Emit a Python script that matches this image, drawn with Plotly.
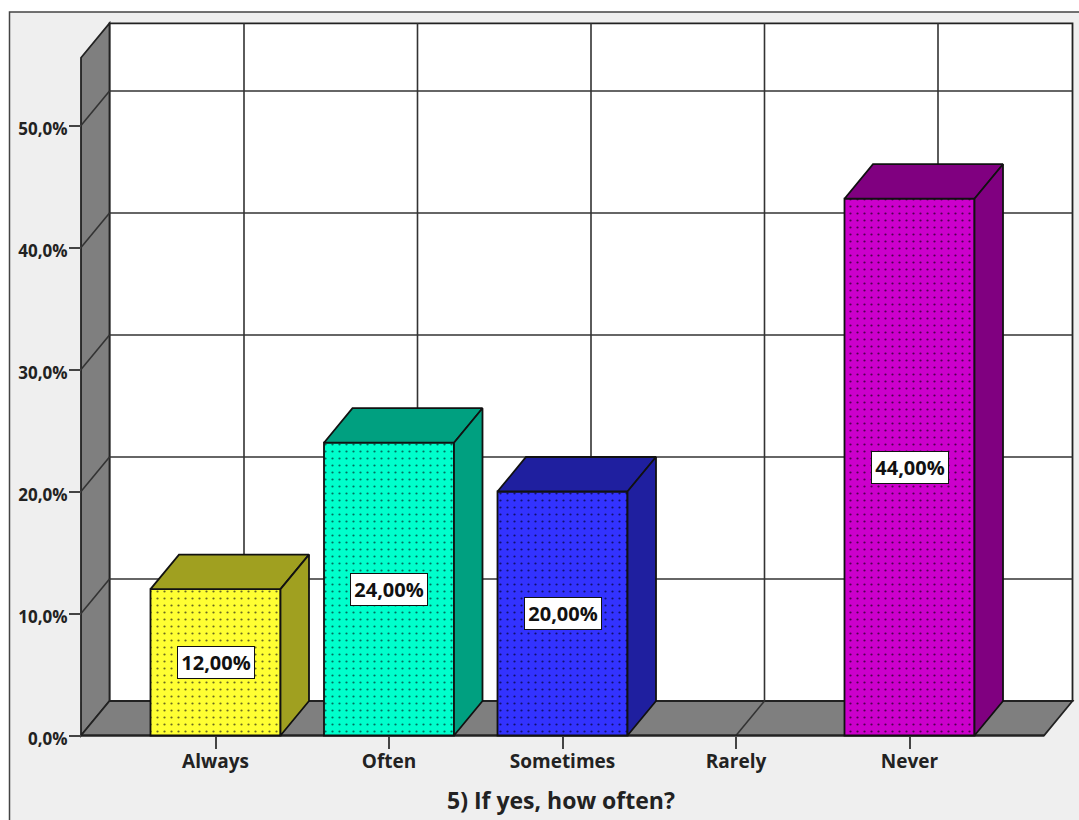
import plotly.graph_objects as go

# Survey responses, percent of respondents
categories = ["Always", "Often", "Sometimes", "Rarely", "Never"]
percentages = [12, 24, 20, 0, 44]
percent_ticks = [0, 10, 20, 30, 40, 50]
percent_tick_labels = ["0,0%", "10,0%", "20,0%", "30,0%", "40,0%", "50,0%"]
axis_title = "5) If yes, how often?"

front_colors = ["#ffff33", "#00ffcc", "#3333ff", "#cc00cc", "#cc00cc"]
shade_colors = ["#a0a020", "#00a080", "#1f1f9f", "#800080", "#800080"]
dot_colors = ["#6a6a20", "#007060", "#101070", "#500050", "#500050"]

WIDTH, HEIGHT = 1079, 820
PX_PER_CAT = 173.5
PX_PER_PCT = 12.2
CAT0_PX = 215.5
ZERO_PX = 735.5

# Oblique projection offset of the chart's depth, in data units
DX = 28.5 / PX_PER_CAT
DY = 34.5 / PX_PER_PCT
BAR_W = 130.0 / PX_PER_CAT

X_RANGE = [-CAT0_PX / PX_PER_CAT, (WIDTH - CAT0_PX) / PX_PER_CAT]
Y_RANGE = [-(HEIGHT - ZERO_PX) / PX_PER_PCT, ZERO_PX / PX_PER_PCT]

FLOOR_L = (81.0 - CAT0_PX) / PX_PER_CAT
FLOOR_R = (1044.0 - CAT0_PX) / PX_PER_CAT
WALL_TOP = 55.55

LINE = "#222222"
WALL_GREY = "#7f7f7f"
PANEL = "#efefef"
FONT = "Open Sans"


def polygon(xs, ys, fill, width=1.8):
    path = "M " + " L ".join(f"{x},{y}" for x, y in zip(xs, ys)) + " Z"
    return dict(type="path", path=path, xref="x", yref="y", layer="below",
                fillcolor=fill, line=dict(color=LINE, width=width))


def segment(x0, y0, x1, y1, width=1.6, color="#333333"):
    return dict(type="line", x0=x0, y0=y0, x1=x1, y1=y1, xref="x", yref="y",
                layer="below", line=dict(color=color, width=width))


shapes = [
    # chart panel
    dict(type="rect", xref="paper", yref="paper", layer="below",
         x0=9.5 / WIDTH, x1=1.01, y0=-0.01, y1=1 - 12 / HEIGHT,
         fillcolor=PANEL, line=dict(color="#444444", width=1.5)),
    # back wall
    polygon([FLOOR_L + DX, FLOOR_R + DX, FLOOR_R + DX, FLOOR_L + DX],
            [DY, DY, WALL_TOP + DY, WALL_TOP + DY], "#ffffff"),
    # left wall
    polygon([FLOOR_L, FLOOR_L + DX, FLOOR_L + DX, FLOOR_L],
            [0, DY, WALL_TOP + DY, WALL_TOP], WALL_GREY),
    # floor
    polygon([FLOOR_L, FLOOR_L + DX, FLOOR_R + DX, FLOOR_R],
            [0, DY, DY, 0], WALL_GREY),
]

# Horizontal grid on the back wall, continuing down the left wall
for t in percent_ticks[1:]:
    shapes.append(segment(FLOOR_L + DX, t + DY, FLOOR_R + DX, t + DY))
    shapes.append(segment(FLOOR_L, t, FLOOR_L + DX, t + DY))

# Vertical grid on the back wall, continuing across the floor
for i in range(len(categories)):
    shapes.append(segment(i + DX, DY, i + DX, WALL_TOP + DY))
    shapes.append(segment(i, 0, i + DX, DY))

# Floor's front edge
shapes.append(segment(FLOOR_L, 0, FLOOR_R, 0, width=2.2, color="#222222"))

drawn = [i for i, v in enumerate(percentages) if v > 0]

fig = go.Figure()

# Front faces of the columns
for i in drawn:
    fig.add_trace(go.Bar(
        x=[i],
        y=[percentages[i]],
        width=BAR_W,
        marker=dict(
            color=front_colors[i],
            line=dict(color="#111111", width=1.8),
            pattern=dict(shape=".", size=7, solidity=0.08,
                         fgcolor=dot_colors[i], bgcolor=front_colors[i], fgopacity=1),
        ),
        hoverinfo="skip",
    ))

# Top and side faces of the columns
for i in drawn:
    v = percentages[i]
    left, right = i - BAR_W / 2, i + BAR_W / 2
    fig.add_trace(go.Scatter(
        x=[left, left + DX, right + DX, right, left],
        y=[v, v + DY, v + DY, v, v],
        mode="lines", fill="toself", fillcolor=shade_colors[i],
        line=dict(color="#111111", width=1.8), hoverinfo="skip",
    ))
    fig.add_trace(go.Scatter(
        x=[right, right + DX, right + DX, right, right],
        y=[0, DY, v + DY, v, 0],
        mode="lines", fill="toself", fillcolor=shade_colors[i],
        line=dict(color="#111111", width=1.8), hoverinfo="skip",
    ))

annotations = [
    dict(x=i, y=percentages[i] / 2, xref="x", yref="y", showarrow=False,
         text=f"{percentages[i]:.2f}%".replace(".", ","),
         font=dict(family=FONT, size=20, color="#111111", weight=700),
         bgcolor="#ffffff", bordercolor="#111111", borderwidth=1,
         width=74, height=29)
    for i in drawn
]
annotations.append(dict(
    x=1.99, y=-64.5 / PX_PER_PCT, xref="x", yref="y", showarrow=False,
    text=axis_title,
    font=dict(family=FONT, size=23, color="#222222", weight=700),
))

fig.update_layout(
    width=WIDTH, height=HEIGHT,
    margin=dict(l=0, r=0, t=0, b=0),
    paper_bgcolor="#ffffff", plot_bgcolor="rgba(0,0,0,0)",
    showlegend=False,
    barmode="overlay",
    shapes=shapes,
    annotations=annotations,
    xaxis=dict(
        range=X_RANGE, domain=[0, 1], anchor="free",
        position=(HEIGHT - ZERO_PX) / HEIGHT,
        tickmode="array", tickvals=list(range(len(categories))), ticktext=categories,
        ticks="outside", ticklen=12, tickwidth=1.5, tickcolor="#444444",
        ticklabelstandoff=-3,
        tickfont=dict(family=FONT, size=19, color="#222222", weight=700),
        showgrid=False, zeroline=False, showline=False, fixedrange=True,
    ),
    yaxis=dict(
        range=Y_RANGE, domain=[0, 1], anchor="free",
        position=81.0 / WIDTH,
        tickmode="array", tickvals=percent_ticks, ticktext=percent_tick_labels,
        ticks="outside", ticklen=12, tickwidth=1.5, tickcolor="#444444",
        ticklabelshift=4,
        ticklabelstandoff=-2,
        tickfont=dict(family=FONT, size=17, color="#222222", weight=700),
        showgrid=False, zeroline=False, showline=False, fixedrange=True,
    ),
)

fig.write_html("out.html")
